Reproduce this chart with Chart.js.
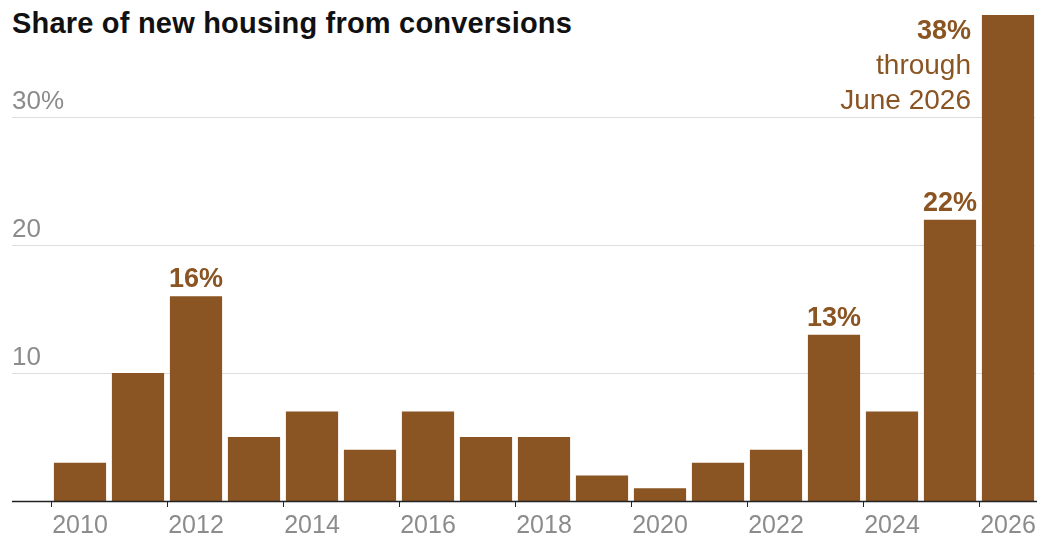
<!DOCTYPE html>
<html><head><meta charset="utf-8">
<script src="https://cdn.jsdelivr.net/npm/chart.js@4"></script>
<style>body{margin:0;background:#fff}#wrap{position:relative;width:1050px;height:549px}
#title{position:absolute;left:12px;top:7px;font:bold 29px "Liberation Sans",sans-serif;letter-spacing:0.2px;color:#111;z-index:2;background:#fff;padding-right:4px}</style>
</head><body>
<div id="wrap"><div id="title">Share of new housing from conversions</div><canvas id="c" width="1050" height="549"></canvas></div>
<script>
// dados
const years = ['2010','2011','2012','2013','2014','2015','2016','2017','2018','2019','2020','2021','2022','2023','2024','2025','2026'];
const shares = [3, 10, 16, 5, 7, 4, 7, 5, 5, 2, 1, 3, 4, 13, 7, 22, 38];
const yTicks = [10, 20, 30];
const yTickLabels = ['10', '20', '30%'];
const callouts = {'2012': '16%', '2023': '13%', '2025': '22%'};

const brown = '#8a5522';

const extras = {
  id: 'extras',
  beforeDatasetsDraw(chart) {
    const {ctx, scales: {y}} = chart;
    ctx.save();
    ctx.strokeStyle = '#ddd'; ctx.lineWidth = 1;
    ctx.font = '26px "Liberation Sans", sans-serif';
    ctx.fillStyle = '#8c8c8c'; ctx.textBaseline = 'bottom';
    yTicks.forEach((t, i) => {
      const py = Math.round(y.getPixelForValue(t)) + 0.5;
      ctx.beginPath(); ctx.moveTo(12, py); ctx.lineTo(1035, py); ctx.stroke();
      ctx.fillText(yTickLabels[i], 12, py - 3);
    });
    ctx.restore();
  },
  afterDatasetsDraw(chart) {
    const {ctx, scales: {x, y}} = chart;
    ctx.save();
    const py0 = Math.round(y.getPixelForValue(0)) + 0.5;
    ctx.strokeStyle = '#222'; ctx.lineWidth = 1.5;
    ctx.beginPath(); ctx.moveTo(12, py0); ctx.lineTo(1037, py0); ctx.stroke();
    ctx.fillStyle = brown; ctx.textAlign = 'center'; ctx.textBaseline = 'bottom';
    ctx.font = 'bold 27px "Liberation Sans", sans-serif';
    Object.keys(callouts).forEach(k => {
      const i = years.indexOf(k);
      ctx.fillText(callouts[k], x.getPixelForValue(i), y.getPixelForValue(shares[i]) - 3);
    });
    const last = years.length - 1;
    const rx = x.getPixelForValue(last) - 37;
    ctx.textAlign = 'right'; ctx.textBaseline = 'alphabetic';
    ctx.fillText(shares[last] + '%', rx, 39);
    ctx.font = '28px "Liberation Sans", sans-serif';
    ctx.fillText('through', rx, 74);
    ctx.fillText('June 2026', rx, 109);
    ctx.restore();
  }
};

new Chart(document.getElementById('c'), {
  type: 'bar',
  data: { labels: years, datasets: [{ data: shares, backgroundColor: brown, barPercentage: 0.9, categoryPercentage: 1 }] },
  options: {
    responsive: false, animation: false,
    layout: { padding: { left: 51, right: 13, top: 15, bottom: 4 } },
    plugins: { legend: { display: false }, tooltip: { enabled: false } },
    scales: {
      y: { display: false, min: 0, max: 38 },
      x: {
        grid: { drawOnChartArea: false, drawTicks: true, tickLength: 6, color: (c) => c.index % 2 === 0 ? '#222' : 'rgba(0,0,0,0)' },
        border: { display: false },
        ticks: { autoSkip: false, maxRotation: 0, color: '#8c8c8c', padding: 4,
          font: { size: 25, family: '"Liberation Sans", sans-serif' },
          callback: (v, i) => i % 2 === 0 ? years[i] : '' }
      }
    }
  },
  plugins: [extras]
});
</script>
</body></html>
